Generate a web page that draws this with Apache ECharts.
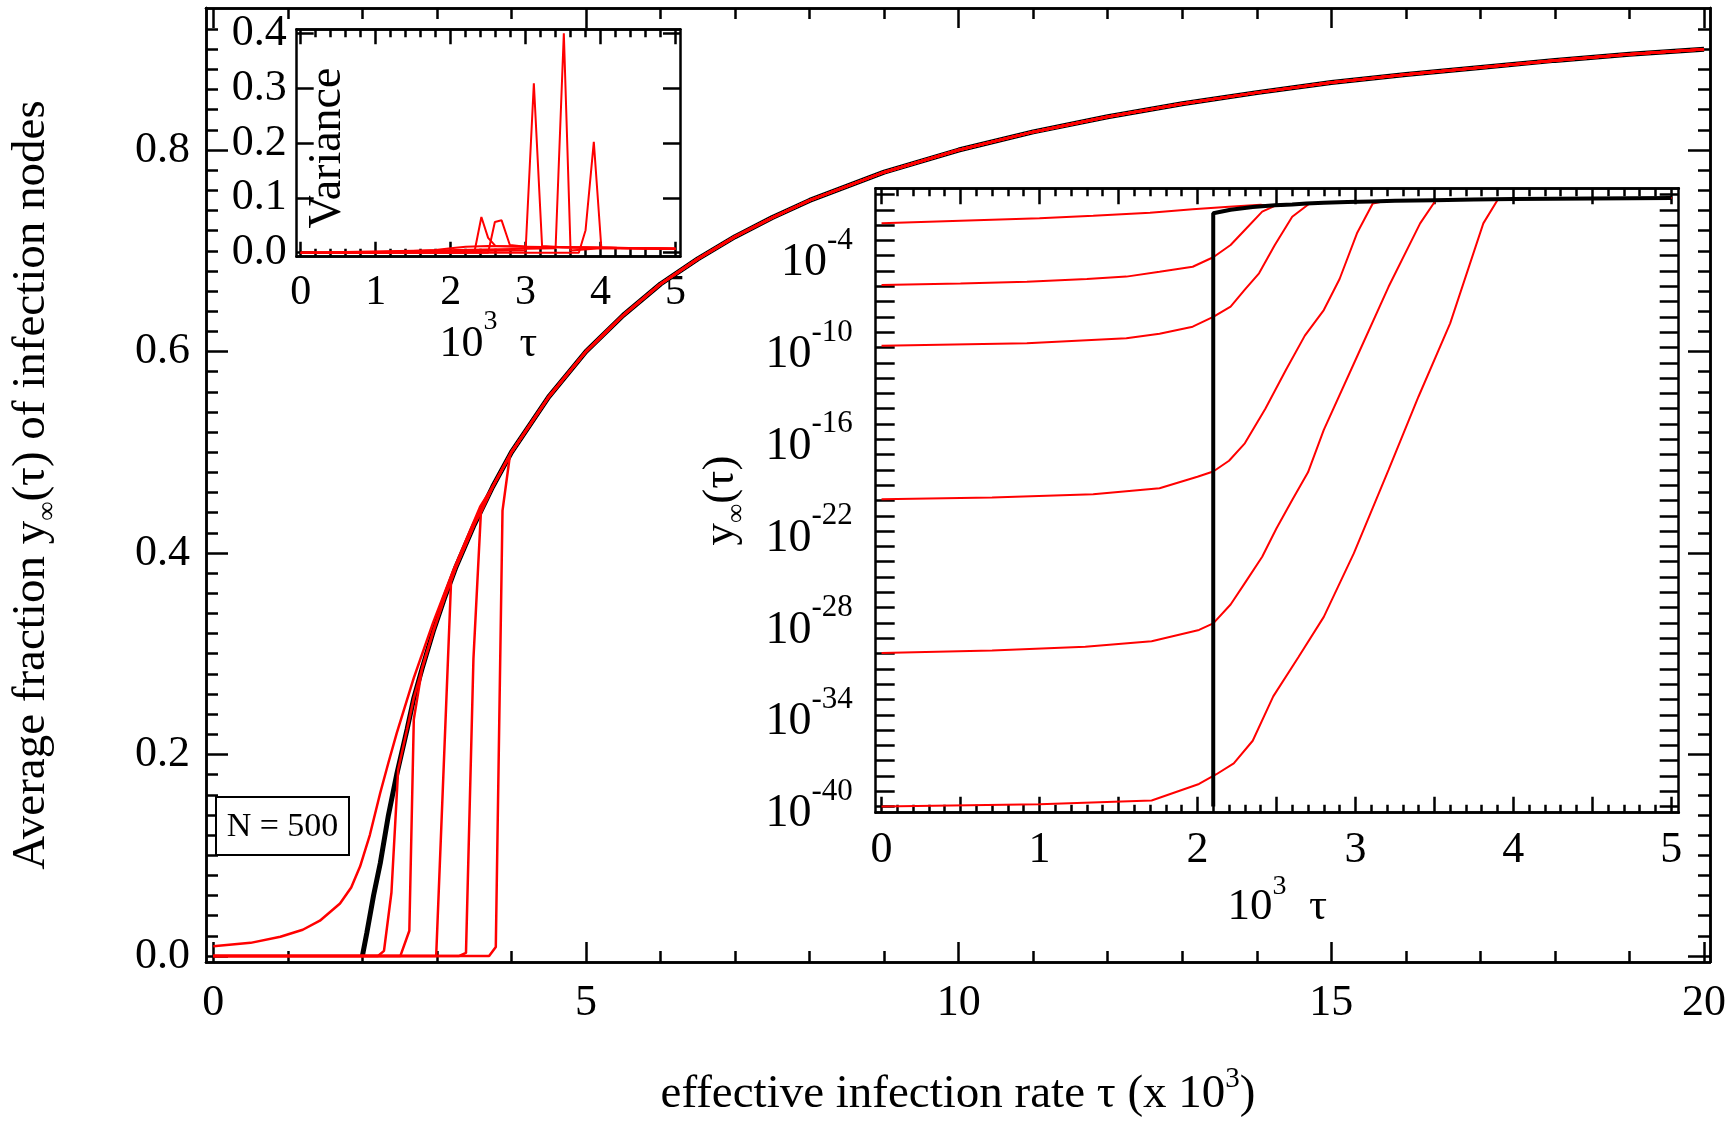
<!DOCTYPE html>
<html><head><meta charset="utf-8">
<script src="https://cdn.jsdelivr.net/npm/echarts@6/dist/echarts.min.js"></script>
<style>html,body{margin:0;padding:0;background:#fff}#c{width:1736px;height:1121px}</style>
</head><body><div id="c"></div>
<script>
// ================= DATA =================
// Main panel: average fraction y_inf(tau) vs tau (x10^3)
const envTau = [4.0, 4.5, 5, 5.5, 6, 6.5, 7, 7.5, 8, 9, 10, 11, 12, 13, 14, 15, 16, 17, 18, 19, 20];
const envY   = [0.500, 0.555, 0.600, 0.636, 0.667, 0.692, 0.714, 0.733, 0.750, 0.778, 0.800, 0.818, 0.833, 0.846, 0.857, 0.867, 0.875, 0.882, 0.889, 0.895, 0.900];
const blackTau = [2.0, 2.06, 2.15, 2.24, 2.35, 2.46, 2.6, 2.69, 2.8, 2.95, 3.1, 3.25, 3.5, 3.75];
const blackY   = [0.0, 0.023, 0.06, 0.092, 0.14, 0.18, 0.225, 0.256, 0.285, 0.322, 0.355, 0.385, 0.428, 0.466];
const redATau = [0, 0.5, 0.9, 1.2, 1.43, 1.7, 1.85, 1.97, 2.1, 2.24, 2.35, 2.46, 2.69, 2.95, 3.22, 3.58];
const redAY   = [0.0096, 0.013, 0.019, 0.026, 0.035, 0.052, 0.068, 0.089, 0.12, 0.162, 0.192, 0.221, 0.276, 0.331, 0.383, 0.446];
const redBTau = [0, 2.21, 2.29, 2.39, 2.48, 2.6];
const redBY   = [0, 0, 0.005, 0.063, 0.185, 0.225];
const redCTau = [0, 2.51, 2.63, 2.69, 2.79];
const redCY   = [0, 0, 0.025, 0.235, 0.28];
const redDTau = [0, 2.99, 3.19];
const redDY   = [0, 0, 0.372];
const redETau = [0, 3.30, 3.39, 3.49, 3.59];
const redEY   = [0, 0, 0.003, 0.295, 0.44];
const redFTau = [0, 3.70, 3.79, 3.88, 3.98];
const redFY   = [0, 0, 0.009, 0.442, 0.497];

// Inset 1: variance vs 10^3 tau
const varATau = [0, 0.5, 1.0, 1.5, 1.8, 2.0, 2.2, 2.5, 3.0, 3.5, 4.0, 4.5, 5.0];
const varAY   = [0, 0.0005, 0.001, 0.003, 0.005, 0.008, 0.011, 0.012, 0.011, 0.010, 0.009, 0.008, 0.007];
const varBTau = [0, 2.2, 2.32, 2.41, 2.5, 2.6, 3.0, 4.0, 5.0];
const varBY   = [0, 0, 0.003, 0.065, 0.027, 0.012, 0.011, 0.009, 0.007];
const varCTau = [0, 2.5, 2.59, 2.68, 2.79, 3.0, 4.0, 5.0];
const varCY   = [0, 0, 0.056, 0.059, 0.014, 0.011, 0.009, 0.007];
const varDTau = [0, 3.0, 3.11, 3.22, 3.5, 4.0, 5.0];
const varDY   = [0, 0.004, 0.309, 0.012, 0.010, 0.009, 0.007];
const varETau = [0, 3.40, 3.51, 3.60, 4.0, 5.0];
const varEY   = [0, 0.008, 0.40, 0.004, 0.008, 0.007];
const varFTau = [0, 3.71, 3.80, 3.91, 4.01, 4.5, 5.0];
const varFY   = [0, 0, 0.041, 0.202, 0.010, 0.008, 0.007];

// Inset 2: y_inf(tau) on log scale
const logATau = [0, 0.5, 1.0, 1.34, 1.7, 1.97, 2.2, 2.4];
const logAY   = [0.013, 0.0195, 0.028, 0.041, 0.065, 0.107, 0.16, 0.21];
const logBTau = [0, 0.5, 0.92, 1.3, 1.55, 1.76, 1.97, 2.10, 2.21, 2.30, 2.41, 2.49];
const logBY   = [1.2e-6, 1.5e-6, 2.0e-6, 3.0e-6, 4.3e-6, 8.9e-6, 1.9e-5, 7.9e-5, 5.0e-4, 4.8e-3, 0.076, 0.18];
const logCTau = [0, 0.92, 1.55, 1.76, 1.97, 2.10, 2.21, 2.30, 2.39, 2.49, 2.60, 2.71];
const logCY   = [1.3e-10, 1.9e-10, 4.0e-10, 7.9e-10, 2.3e-9, 1.0e-8, 4.7e-8, 6.0e-7, 7.1e-6, 5.0e-4, 0.035, 0.26];
const logDTau = [0, 0.7, 1.34, 1.76, 2.0, 2.10, 2.20, 2.30, 2.43, 2.56, 2.68, 2.80, 2.90, 3.01, 3.11, 3.19];
const logDY   = [1.2e-20, 1.6e-20, 2.6e-20, 6.3e-20, 3.6e-19, 7.9e-19, 4.0e-18, 5.5e-17, 1.0e-14, 3.4e-12, 6.0e-10, 2.8e-8, 3.0e-6, 2.9e-3, 0.26, 0.372];
const logETau = [0, 0.7, 1.29, 1.71, 2.01, 2.10, 2.21, 2.30, 2.41, 2.50, 2.60, 2.70, 2.80, 3.01, 3.21, 3.41, 3.51];
const logEY   = [1.1e-30, 1.6e-30, 2.8e-30, 6.3e-30, 3.5e-29, 9.3e-29, 1.6e-27, 4.0e-26, 2.1e-24, 1.5e-22, 1.1e-20, 7.0e-19, 4.1e-16, 2.5e-11, 9.3e-7, 0.013, 0.44];
const logFTau = [0, 1.0, 1.71, 2.01, 2.12, 2.23, 2.35, 2.48, 2.64, 2.80, 2.99, 3.21, 3.40, 3.60, 3.81, 3.90];
const logFY   = [1.0e-40, 1.4e-40, 2.5e-40, 3.0e-39, 1.3e-38, 6.6e-38, 2.0e-36, 1.6e-33, 6.0e-31, 2.5e-28, 3.5e-24, 1.0e-18, 6.3e-14, 3.8e-9, 0.013, 0.44];
const logBlackTau = [2.1, 2.1, 2.21, 2.35, 2.49];
const logBlackY   = [1e-40, 0.059, 0.1, 0.15, 0.2];

// Tick labels
const mainXLabels = [0, 5, 10, 15, 20];
const mainYLabels = [0, 0.2, 0.4, 0.6, 0.8];
const inset1XLabels = [0, 1, 2, 3, 4, 5];
const inset1YLabels = [0, 0.1, 0.2, 0.3, 0.4];
const inset2XLabels = [0, 1, 2, 3, 4, 5];
const inset2YLabelExps = [-40, -34, -28, -22, -16, -10, -4];

// ================= BUILD =================
const FONT = 'Liberation Serif';
function zip(t, y) { return t.map((v, i) => [v, y[i]]); }
const blackPath = zip(blackTau, blackY).concat(zip(envTau, envY));
function tailAfter(t0, tmax) { return blackPath.filter(p => p[0] > t0 + 1e-9 && p[0] <= tmax + 1e-9); }
function steps(a, b, d, skipEvery) {
  const out = []; const n = Math.round((b - a) / d);
  for (let i = 0; i <= n; i++) { if (skipEvery && i % skipEvery === 0) continue; out.push(+(a + i * d).toFixed(4)); }
  return out;
}
const AX = {color: '#000', width: 2.5};
function ax(o) {
  const a = {
    type: o.type || 'value', gridIndex: o.grid, position: o.pos, min: o.min, max: o.max,
    axisLine: {show: true, onZero: false, lineStyle: AX},
    axisTick: {show: true, inside: true, length: o.len, customValues: o.ticks, lineStyle: AX},
    axisLabel: {show: false},
    splitLine: {show: false}, minorTick: {show: false}, minorSplitLine: {show: false},
    silent: true, nameMoveOverlap: false
  };
  if (o.type === 'log') a.logBase = 10;
  if (o.labels) a.axisLabel = Object.assign({show: true, customValues: o.labels, fontFamily: FONT, color: '#000', fontSize: 44, hideOverlap: false}, o.label || {});
  if (o.name) { a.name = o.name; a.nameLocation = 'middle'; a.nameGap = o.nameGap;
    a.nameTextStyle = Object.assign({fontFamily: FONT, color: '#000', fontSize: 44}, o.nameStyle || {}); }
  return a;
}
// rich text helpers: base line (bottom aligned, sets line height), superscript (top aligned)
function baseStyle(size, lh) { return {fontFamily: FONT, color: '#000', fontSize: size, lineHeight: lh, verticalAlign: 'bottom'}; }
function supStyle(size) { return {fontFamily: FONT, color: '#000', fontSize: size, verticalAlign: 'top'}; }
function yBase(size) { return {fontFamily: FONT, color: '#000', fontSize: size, verticalAlign: 'top'}; }
function subStyle(size, lh) { return {fontFamily: FONT, color: '#000', fontSize: size, lineHeight: lh, verticalAlign: 'bottom'}; }

const M = {grid: 0, xmin: -0.098, xmax: 20.08, ymin: -0.006, ymax: 0.941};
const I1 = {grid: 1, xmin: -0.054, xmax: 5.06, ymin: -0.0073, ymax: 0.4073};
const I2 = {grid: 2, xmin: -0.037, xmax: 5.047, ymin: Math.pow(10, -40.4), ymax: Math.pow(10, 0.405)};

const xAxis = [
  ax({grid: 0, pos: 'bottom', min: M.xmin, max: M.xmax, len: 20, ticks: mainXLabels, labels: mainXLabels,
      label: {margin: 19, formatter: v => String(v)},
      name: '{b|effective infection rate τ (x 10}{s|3}{b|)}', nameGap: 103,
      nameStyle: {rich: {b: baseStyle(47, 53), s: supStyle(29)}}}),
  ax({grid: 0, pos: 'bottom', min: M.xmin, max: M.xmax, len: 11, ticks: steps(0, 20, 1, 5)}),
  ax({grid: 0, pos: 'top', min: M.xmin, max: M.xmax, len: 20, ticks: mainXLabels}),
  ax({grid: 0, pos: 'top', min: M.xmin, max: M.xmax, len: 11, ticks: steps(0, 20, 1, 5)}),
  ax({grid: 1, pos: 'bottom', min: I1.xmin, max: I1.xmax, len: 15, ticks: inset1XLabels, labels: inset1XLabels,
      label: {margin: 15, fontSize: 42, formatter: v => String(v)},
      name: '{b|10}{s|3}{b|  τ}', nameGap: 51, nameStyle: {rich: {b: baseStyle(44, 59), s: supStyle(28)}}}),
  ax({grid: 1, pos: 'bottom', min: I1.xmin, max: I1.xmax, len: 8, ticks: steps(0, 5, 0.2, 5)}),
  ax({grid: 1, pos: 'top', min: I1.xmin, max: I1.xmax, len: 15, ticks: inset1XLabels}),
  ax({grid: 1, pos: 'top', min: I1.xmin, max: I1.xmax, len: 8, ticks: steps(0, 5, 0.2, 5)}),
  ax({grid: 2, pos: 'bottom', min: I2.xmin, max: I2.xmax, len: 16, ticks: steps(0, 5, 0.5, 0), labels: inset2XLabels,
      label: {margin: 16, formatter: v => String(v)},
      name: '{b|10}{s|3}{b|  τ}', nameGap: 60, nameStyle: {rich: {b: baseStyle(45, 57), s: supStyle(28)}}}),
  ax({grid: 2, pos: 'bottom', min: I2.xmin, max: I2.xmax, len: 8, ticks: steps(0, 5, 0.1, 5)}),
  ax({grid: 2, pos: 'top', min: I2.xmin, max: I2.xmax, len: 16, ticks: steps(0, 5, 0.5, 0)}),
  ax({grid: 2, pos: 'top', min: I2.xmin, max: I2.xmax, len: 8, ticks: steps(0, 5, 0.1, 5)})
];
const decadeTicks = steps(-40, 0, 1, 0).map(e => Math.pow(10, e));
const yAxis = [
  ax({grid: 0, pos: 'left', min: M.ymin, max: M.ymax, len: 22, ticks: mainYLabels, labels: mainYLabels,
      label: {margin: 16, formatter: v => v.toFixed(1)},
      name: '{t|Average fraction y}{u|∞}{t|(τ) of infection nodes}', nameGap: 145,
      nameStyle: {rich: {t: yBase(47), u: subStyle(27, 53)}}}),
  ax({grid: 0, pos: 'left', min: M.ymin, max: M.ymax, len: 12, ticks: steps(0, 0.92, 0.02, 10)}),
  ax({grid: 0, pos: 'right', min: M.ymin, max: M.ymax, len: 22, ticks: mainYLabels}),
  ax({grid: 0, pos: 'right', min: M.ymin, max: M.ymax, len: 12, ticks: steps(0, 0.92, 0.02, 10)}),
  ax({grid: 1, pos: 'left', min: I1.ymin, max: I1.ymax, len: 17, ticks: inset1YLabels, labels: inset1YLabels,
      label: {margin: 10, formatter: v => v.toFixed(1)},
      name: 'Variance', nameGap: -54, nameStyle: {fontSize: 46, padding: [0, 10, 0, 0]}}),
  ax({grid: 1, pos: 'right', min: I1.ymin, max: I1.ymax, len: 17, ticks: inset1YLabels}),
  ax({grid: 2, pos: 'left', type: 'log', min: I2.ymin, max: I2.ymax, len: 19, ticks: decadeTicks,
      labels: inset2YLabelExps.map(e => Math.pow(10, e)),
      label: {margin: 23, formatter: v => '{b|10}{s|' + Math.round(Math.log10(v)) + '}',
              rich: {b: baseStyle(46, 61), s: supStyle(31)}},
      name: '{t|y}{u|∞}{t|(τ)}', nameGap: 125, nameStyle: {rich: {t: yBase(45), u: subStyle(27, 52)}}}),
  ax({grid: 2, pos: 'right', type: 'log', min: I2.ymin, max: I2.ymax, len: 19, ticks: decadeTicks})
];

function line(data, color, width, xi, yi, z) {
  return {type: 'line', data: data, xAxisIndex: xi, yAxisIndex: yi, showSymbol: false, symbol: 'none',
          lineStyle: {color: color, width: width}, z: z || 2, silent: true, animation: false};
}
const RED = '#ff0000';
const series = [
  // main
  line(blackPath, '#000', 5, 0, 0, 2),
  line(zip(redATau, redAY).concat(tailAfter(3.58, 20)), RED, 2.5, 0, 0, 3),
  line(zip(redBTau, redBY).concat(tailAfter(2.6, 20)), RED, 2.5, 0, 0, 3),
  line(zip(redCTau, redCY).concat(tailAfter(2.79, 20)), RED, 2.5, 0, 0, 3),
  line(zip(redDTau, redDY).concat(tailAfter(3.19, 20)), RED, 2.5, 0, 0, 3),
  line(zip(redETau, redEY).concat(tailAfter(3.59, 20)), RED, 2.5, 0, 0, 3),
  line(zip(redFTau, redFY).concat(tailAfter(3.98, 20)), RED, 2.5, 0, 0, 3),
  // inset 1
  line(zip(varATau, varAY), RED, 2, 4, 4, 3),
  line(zip(varBTau, varBY), RED, 2, 4, 4, 3),
  line(zip(varCTau, varCY), RED, 2, 4, 4, 3),
  line(zip(varDTau, varDY), RED, 2, 4, 4, 3),
  line(zip(varETau, varEY), RED, 2, 4, 4, 3),
  line(zip(varFTau, varFY), RED, 2, 4, 4, 3),
  // inset 2
  line(zip(logATau, logAY).concat(tailAfter(2.4, 5)), RED, 2, 8, 6, 3),
  line(zip(logBTau, logBY).concat(tailAfter(2.49, 5)), RED, 2, 8, 6, 3),
  line(zip(logCTau, logCY).concat(tailAfter(2.71, 5)), RED, 2, 8, 6, 3),
  line(zip(logDTau, logDY).concat(tailAfter(3.19, 5)), RED, 2, 8, 6, 3),
  line(zip(logETau, logEY).concat(tailAfter(3.51, 5)), RED, 2, 8, 6, 3),
  line(zip(logFTau, logFY).concat(tailAfter(3.90, 5)), RED, 2, 8, 6, 3),
  line(zip(logBlackTau, logBlackY).concat(tailAfter(2.49, 5)), '#000', 4, 8, 6, 4)
];

const chart = echarts.init(document.getElementById('c'), null, {renderer: 'canvas'});
chart.setOption({
  backgroundColor: '#fff',
  animation: false,
  grid: [
    {left: 206, top: 8, width: 1504, height: 954, containLabel: false, outerBoundsMode: 'none'},
    {left: 296.7, top: 29.3, width: 383.3, height: 227.4, containLabel: false, outerBoundsMode: 'none'},
    {left: 875.7, top: 188.3, width: 803, height: 624.4, containLabel: false, outerBoundsMode: 'none'}
  ],
  xAxis: xAxis,
  yAxis: yAxis,
  series: series,
  graphic: [
    {type: 'rect', shape: {x: 216, y: 797, width: 133, height: 58}, style: {fill: '#fff', stroke: '#000', lineWidth: 2}, z: 10},
    {type: 'text', x: 282.5, y: 827, style: {text: 'N = 500', fontFamily: FONT, fontSize: 34, fill: '#000', align: 'center', verticalAlign: 'middle'}, z: 11}
  ]
});
</script>
</body></html>
